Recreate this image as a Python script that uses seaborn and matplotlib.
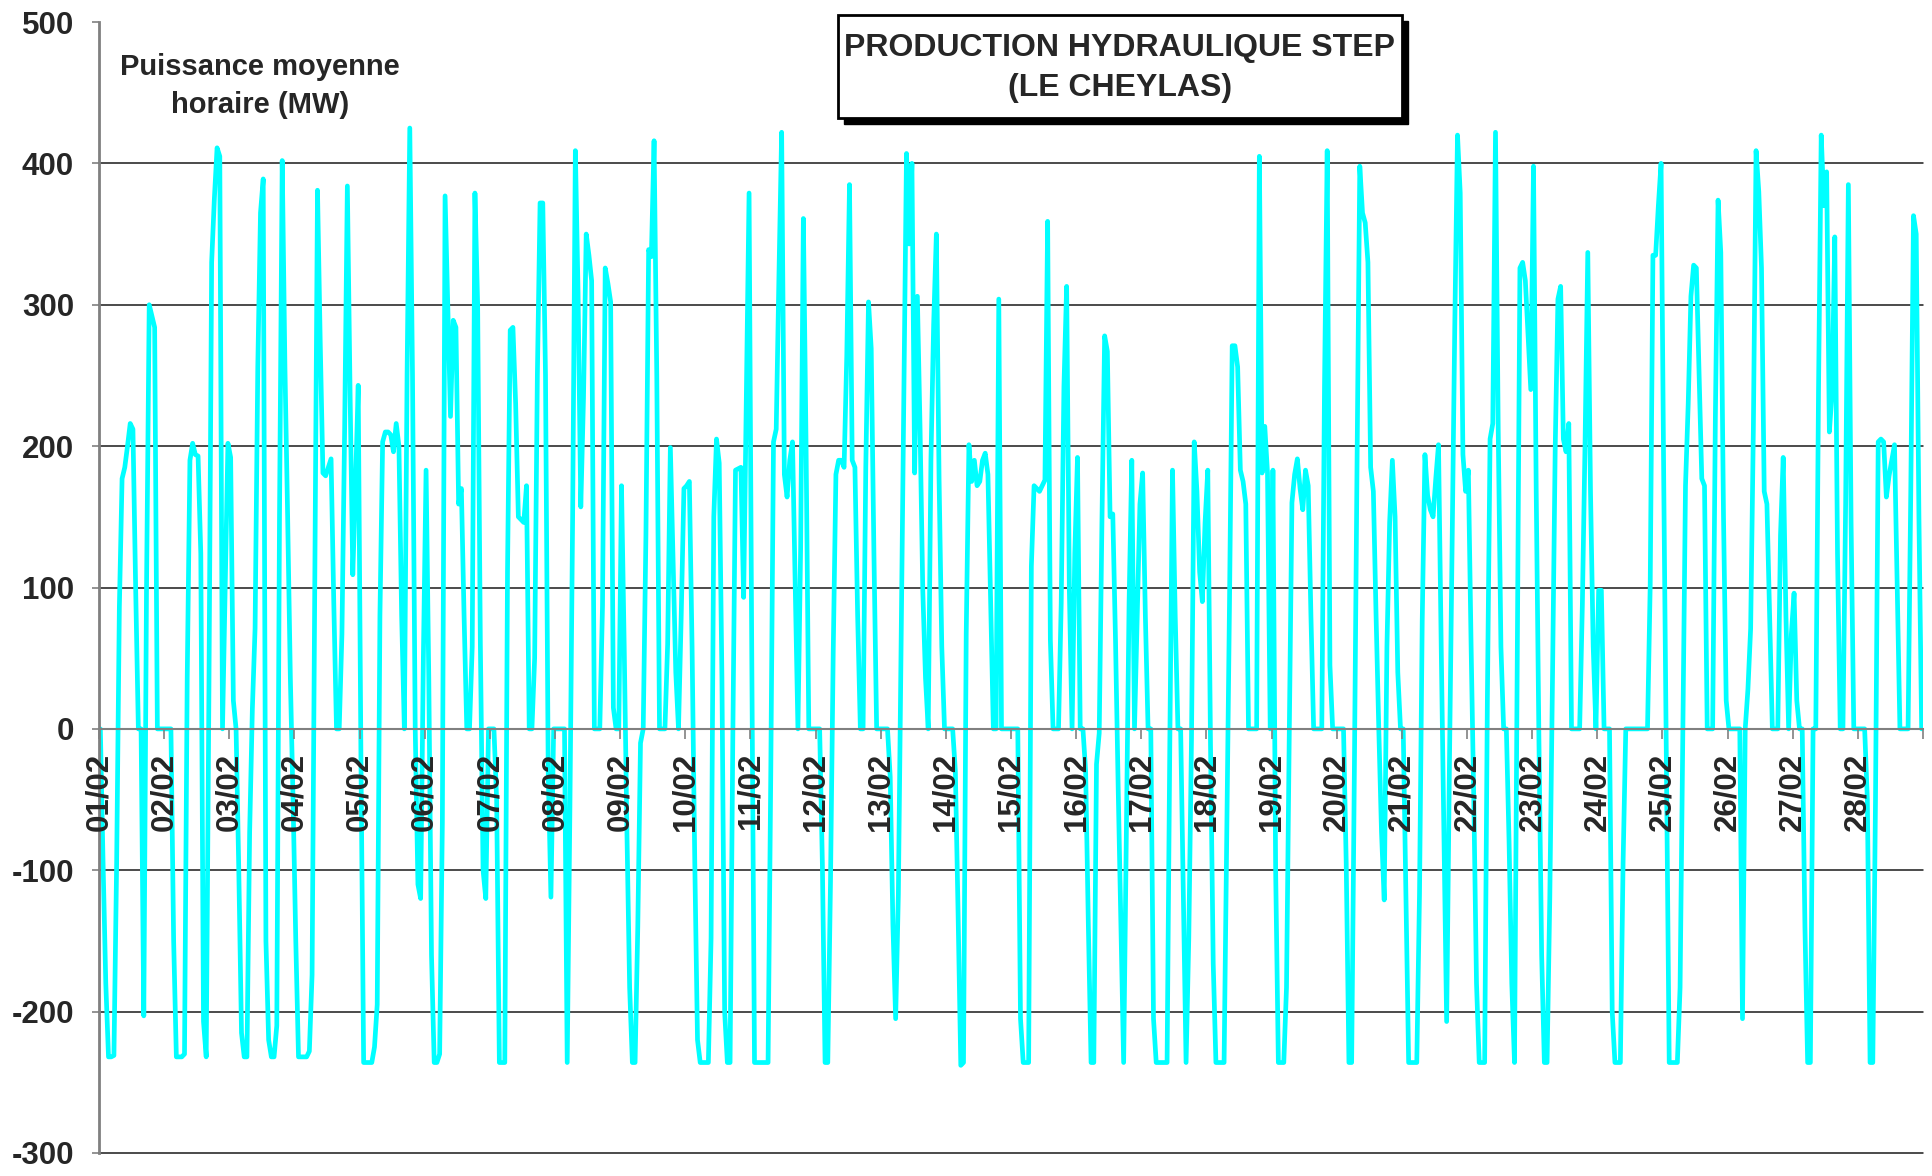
import numpy as np
import pandas as pd
import matplotlib
matplotlib.use('Agg')
import matplotlib.pyplot as plt
from matplotlib.patches import Rectangle
import seaborn as sns

# hourly mean power (MW), one list per day of February
feb01 = [0, -95, -180, -232, -232, -231, -95, 86, 177, 185, 200, 216, 212, 100, 0, 0, -203, 98, 300, 292, 284, 0, 0, 0]
feb02 = [0, 0, 0, -150, -232, -232, -232, -230, 36, 190, 202, 194, 193, 124, -207, -232, 27, 330, 375, 411, 405, 0, 100, 202]
feb03 = [192, 20, 0, -100, -215, -232, -232, -73, 14, 71, 256, 365, 389, -150, -220, -232, -232, -210, 150, 402, 256, 150, 36, -51]
feb04 = [-150, -232, -232, -232, -232, -228, -174, 102, 381, 274, 181, 179, 185, 191, 89, 0, 0, 67, 212, 384, 238, 109, 172, 243]
feb05 = [-20, -236, -236, -236, -236, -225, -195, 80, 203, 210, 210, 208, 196, 216, 200, 80, 0, 250, 425, 250, 0, -110, -120, 50]
feb06 = [183, 36, -160, -236, -236, -230, -66, 377, 300, 221, 289, 284, 159, 170, 80, 0, 0, 58, 379, 300, 60, -100, -120, 0]
feb07 = [0, 0, -50, -236, -236, -236, 111, 282, 284, 230, 150, 148, 146, 172, 0, 0, 50, 250, 372, 372, 250, -30, -119, 0]
feb08 = [0, 0, 0, 0, -236, -55, 151, 409, 308, 157, 234, 350, 335, 317, 0, 0, 0, 87, 326, 315, 302, 15, 0, 0]
feb09 = [172, 58, -73, -183, -236, -236, -140, -10, 0, 137, 339, 334, 416, 250, 0, 0, 0, 60, 199, 120, 40, 0, 80, 170]
feb10 = [172, 175, 58, -95, -220, -236, -236, -236, -236, -148, 150, 205, 188, 36, -200, -236, -236, -8, 183, 184, 185, 93, 234, 379]
feb11 = [50, -236, -236, -236, -236, -236, -236, -30, 203, 212, 320, 422, 180, 164, 190, 203, 100, 0, 128, 361, 200, 0, 0, 0]
feb12 = [0, 0, -95, -236, -236, -108, 54, 180, 190, 190, 185, 264, 385, 190, 185, 80, 0, 0, 185, 302, 269, 124, 0, 0]
feb13 = [0, 0, 0, -34, -139, -205, -117, 58, 234, 407, 343, 400, 181, 306, 212, 98, 36, 0, 190, 286, 350, 177, 58, 0]
feb14 = [0, 0, 0, -30, -130, -238, -236, 67, 201, 175, 190, 172, 175, 190, 195, 180, 89, 0, 0, 304, 0, 0, 0, 0]
feb15 = [0, 0, 0, -205, -236, -236, -236, 115, 172, 170, 168, 172, 176, 359, 63, 0, 0, 0, 89, 242, 313, 98, 0, 124]
feb16 = [192, 0, 0, -30, -139, -236, -236, -25, -3, 146, 278, 267, 150, 152, 63, -43, -139, -236, -73, 89, 190, 0, 80, 159]
feb17 = [181, 80, 0, 0, -205, -236, -236, -236, -236, -236, -12, 183, 80, 0, 0, -117, -236, -148, -7, 203, 168, 111, 90, 146]
feb18 = [183, -11, -166, -236, -236, -236, -236, -73, 89, 271, 271, 256, 183, 175, 159, 0, 0, 0, 0, 405, 181, 214, 181, 0]
feb19 = [183, -100, -236, -236, -236, -183, -7, 160, 180, 191, 170, 155, 183, 172, 80, 0, 0, 0, 0, 242, 409, 45, 0, 0]
feb20 = [0, 0, 0, -95, -236, -236, -30, 190, 398, 365, 358, 330, 185, 168, 80, 0, -73, -121, 58, 146, 190, 150, 40, 0]
feb21 = [0, -117, -236, -236, -236, -236, -117, 76, 194, 165, 155, 150, 177, 201, 58, -73, -207, -30, 128, 286, 420, 379, 194, 168]
feb22 = [183, 60, -50, -180, -236, -236, -236, 20, 205, 216, 422, 212, 58, 0, 0, -80, -180, -236, 50, 326, 330, 317, 278, 240]
feb23 = [398, 168, -8, -160, -236, -236, -120, 36, 199, 304, 313, 205, 196, 216, 0, 0, 0, 0, 88, 203, 337, 168, 58, 0]
feb24 = [98, 98, 0, 0, 0, -200, -236, -236, -236, -95, 0, 0, 0, 0, 0, 0, 0, 0, 0, 102, 335, 335, 370, 400]
feb25 = [171, -33, -236, -236, -236, -236, -183, -7, 172, 230, 306, 328, 326, 250, 177, 172, 0, 0, 0, 220, 374, 337, 150, 20]
feb26 = [0, 0, 0, 0, 0, -205, 0, 28, 71, 212, 409, 380, 326, 168, 159, 80, 0, 0, 0, 137, 192, 80, 0, 67]
feb27 = [96, 20, 0, 0, -140, -236, -236, 0, 0, 238, 420, 370, 394, 210, 238, 348, 124, 0, 0, 159, 385, 146, 0, 0]
feb28 = [0, 0, 0, -50, -236, -236, -50, 203, 205, 203, 164, 179, 190, 201, 102, 0, 0, 0, 0, 169, 363, 350, 150, 0]

days = [feb01, feb02, feb03, feb04, feb05, feb06, feb07, feb08, feb09, feb10,
        feb11, feb12, feb13, feb14, feb15, feb16, feb17, feb18, feb19, feb20,
        feb21, feb22, feb23, feb24, feb25, feb26, feb27, feb28]
day_labels = [f"{d:02d}/02" for d in range(1, 29)]
y_ticks = [-300, -200, -100, 0, 100, 200, 300, 400, 500]

title = "PRODUCTION HYDRAULIQUE STEP\n(LE CHEYLAS)"
unit_label = "Puissance moyenne\nhoraire (MW)"

power = np.concatenate([np.array(d, dtype=float) for d in days])
df = pd.DataFrame({"hour": np.arange(len(power)), "mw": power})

sns.set_theme(style="white")
plt.rcParams['font.family'] = ['Liberation Sans', 'DejaVu Sans']
plt.rcParams['font.weight'] = 'bold'

W, H = 1933, 1176
fig = plt.figure(figsize=(W / 100, H / 100), dpi=100, facecolor='white')
ax = fig.add_axes([99 / W, 1 - 1153 / H, (1923 - 99) / W, (1153 - 22) / H])
ax.set_facecolor('white')

ax.set_ylim(-300, 500)
ax.set_xlim(-0.5, len(power) - 0.5)

# horizontal gridlines drawn as lines (none at the top value)
for v in y_ticks[:-1]:
    ax.axhline(v, color='#1a1a1a', linewidth=1.1, zorder=1, clip_on=False)

# series under the axis so the date labels stay readable on top of it
sns.lineplot(data=df, x="hour", y="mw", ax=ax, color='#00FFFF', linewidth=3.4,
             zorder=2, legend=False)
ax.set_xlabel("")
ax.set_ylabel("")
ax.grid(False)

ax.set_yticks(y_ticks)
ax.set_yticklabels([str(v) for v in y_ticks])

# category axis crossing at 0, ticks on day boundaries
n_days = len(days)
ax.set_xticks([-0.5 + 24 * d for d in range(n_days)])
ax.set_xticks([-0.5 + 24 * n_days], minor=True)
ax.set_xticklabels(day_labels)
ax.spines['bottom'].set_position(('data', 0))
ax.spines['bottom'].set_color('#808080')
ax.spines['bottom'].set_linewidth(1.5)
ax.spines['bottom'].set_zorder(2.6)
ax.spines['left'].set_color('#808080')
ax.spines['left'].set_linewidth(2)
ax.spines['top'].set_visible(False)
ax.spines['right'].set_visible(False)
ax.xaxis.set_zorder(3)
ax.tick_params(axis='x', which='both', direction='out', length=7, width=1.2,
               color='#808080', pad=10, labelsize=22.5, bottom=True, labelrotation=90)
ax.tick_params(axis='y', direction='out', length=5, width=1.2, color='#808080',
               pad=13, left=True, labelsize=22.5)
for lbl in ax.get_xticklabels():
    lbl.set_fontweight('bold')
    lbl.set_ha('center')
    lbl.set_va('top')
for lbl in ax.get_yticklabels():
    lbl.set_fontweight('bold')

# unit label
fig.text(260 / W, 1 - 86 / H, unit_label, ha='center', va='center',
         fontsize=21, fontweight='bold', linespacing=1.42)

# title box with drop shadow
bx0, bx1, by0, by1 = 838, 1402, 15, 118
sh = 6
fig.patches.append(Rectangle(((bx0 + sh) / W, 1 - (by1 + sh) / H), (bx1 - bx0) / W,
                             (by1 - by0) / H, transform=fig.transFigure,
                             facecolor='black', edgecolor='black', zorder=5))
fig.patches.append(Rectangle((bx0 / W, 1 - by1 / H), (bx1 - bx0) / W,
                             (by1 - by0) / H, transform=fig.transFigure,
                             facecolor='white', edgecolor='black', linewidth=2, zorder=6))
fig.text((bx0 + bx1) / 2 / W, 1 - 68 / H, title, ha='center', va='center',
         fontsize=23, fontweight='bold', linespacing=1.45, zorder=7)

fig.savefig('out.png', dpi=100, facecolor='white')
